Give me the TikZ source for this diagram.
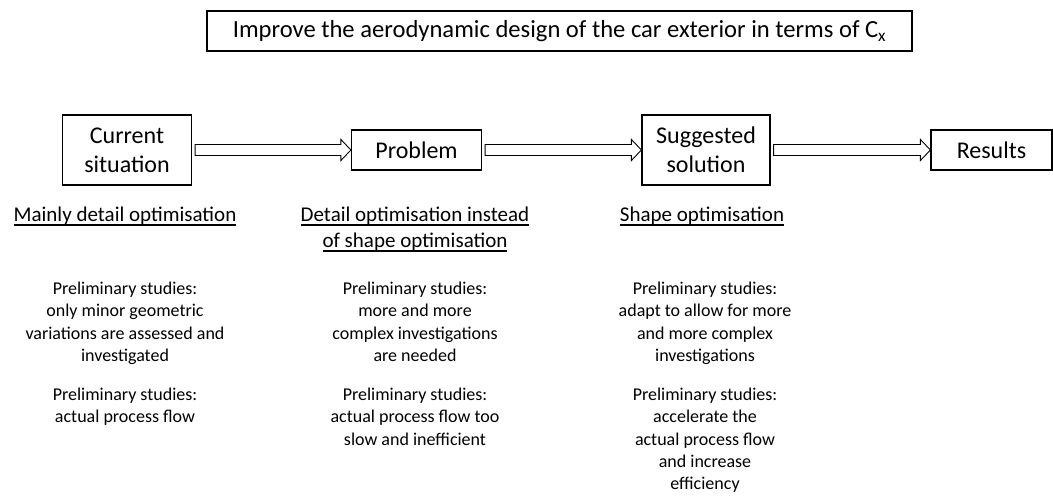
\documentclass[tikz,border=0pt]{standalone}
\usepackage{fontspec}
\setmainfont{Carlito}
\usetikzlibrary{calc}
\newcommand\blockarrow[2]{%
  \draw[arr] ($(#1.east)+(3,-5.5)$) -- ($(#2.west)+(-10,-5.5)$) -- ($(#2.west)+(-10,-10.5)$)
    -- (#2.west) -- ($(#2.west)+(-10,10.5)$) -- ($(#2.west)+(-10,5.5)$) -- ($(#1.east)+(3,5.5)$) -- cycle;}
\newcommand\ulx[1]{\leavevmode\setbox0\hbox{#1}\rlap{\rule[-3.8pt]{\wd0}{1.3pt}}\box0}
\begin{document}
\begin{tikzpicture}[x=1pt,y=-1pt,
  box/.style={draw, line width=1.2pt, align=center, inner sep=0pt,
    font=\fontsize{24}{29}\selectfont},
  tallbox/.style={box, minimum width=129pt, minimum height=70pt},
  flatbox/.style={box, minimum width=130pt, minimum height=40pt},
  arr/.style={draw, line width=0.9pt, fill=white},
  head/.style={anchor=base, align=center, inner sep=0pt, font=\fontsize{21}{26}\selectfont},
  body/.style={anchor=north, align=center, inner sep=0pt, font=\fontsize{18}{22.2}\selectfont}]
\useasboundingbox (0,0) rectangle (1053,497);
\node[box, minimum width=705pt, minimum height=40pt, font=\fontsize{24.6}{29}\selectfont] (title) at (559.5,31)
  {Improve the aerodynamic design of the car exterior in terms of C\textsubscript{x}};
\node[tallbox] (cur) at (127,150) {Current\\situation};
\node[flatbox] (prob) at (416.5,150) {Problem};
\node[tallbox, minimum width=128pt] (sug) at (706,150) {Suggested\\solution};
\node[flatbox, minimum width=121pt] (res) at (991.5,150) {Results};
\blockarrow{cur}{prob}
\blockarrow{prob}{sug}
\blockarrow{sug}{res}
\node[head] (h1) at (125,222) {\ulx{Mainly detail optimisation}};
\node[head] (h2) at (415,222) {\ulx{Detail optimisation instead}};
\node[head] (h2b) at (415,248) {\ulx{of shape optimisation}};
\node[head] (h3) at (702,222) {\ulx{Shape optimisation}};
\node[body] (p1a) at (125,282) {Preliminary studies:\\only minor geometric\\variations are assessed and\\investigated};
\node[body] (p1b) at (125,388) {Preliminary studies:\\actual process flow};
\node[body] (p2a) at (415,282) {Preliminary studies:\\more and more\\complex investigations\\are needed};
\node[body] (p2b) at (415,388) {Preliminary studies:\\actual process flow too\\slow and inefficient};
\node[body] (p3a) at (705,282) {Preliminary studies:\\adapt to allow for more\\and more complex\\investigations};
\node[body] (p3b) at (705,388) {Preliminary studies:\\accelerate the\\actual process flow\\and increase\\efficiency};
\end{tikzpicture}
\end{document}
